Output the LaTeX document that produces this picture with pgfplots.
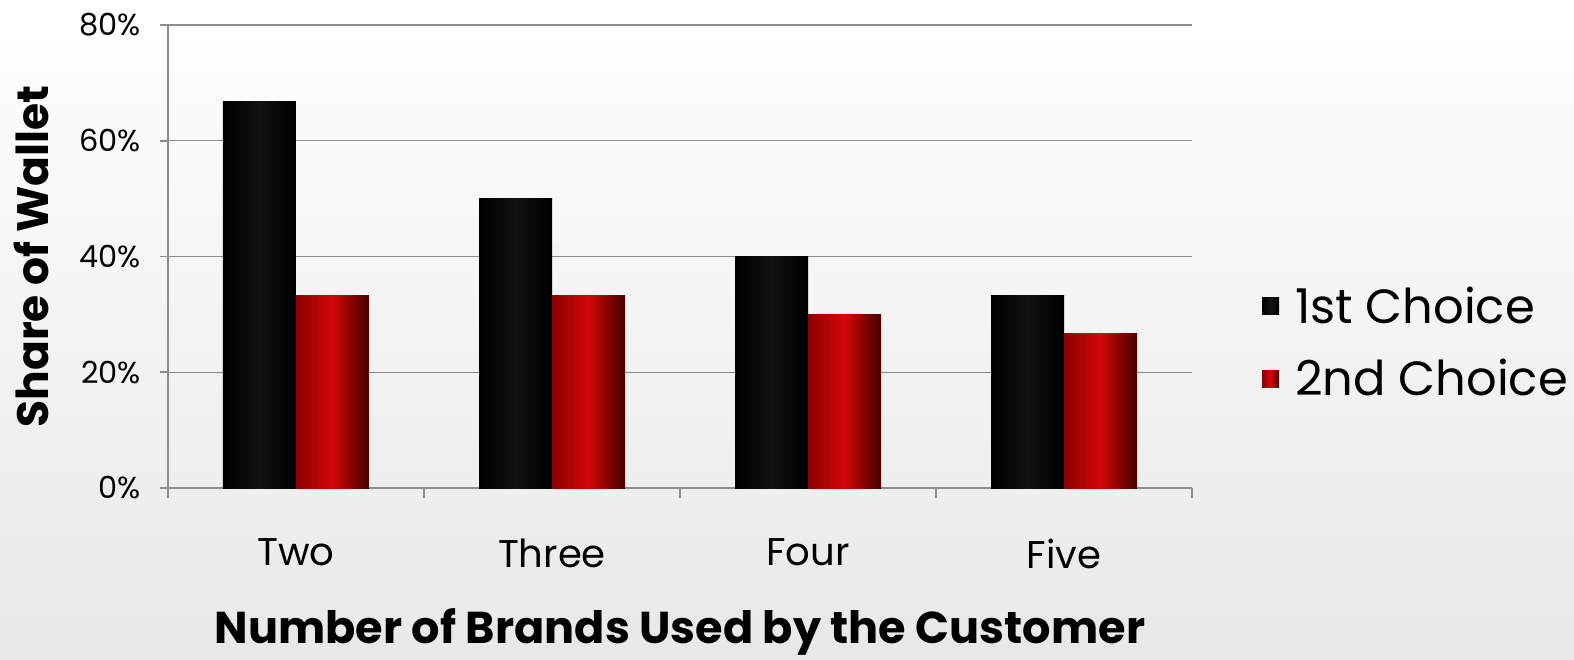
\documentclass[border=0pt]{standalone}
\usepackage{pgfplots}
\pgfplotsset{compat=1.18}
\usepackage{fontspec}
\setmainfont{Poppins}
\definecolor{gridgray}{RGB}{140,140,140}
\definecolor{redmid}{RGB}{210,8,8}
\definecolor{redleft}{RGB}{140,0,0}
\definecolor{redright}{RGB}{70,0,0}
\definecolor{bgbottom}{RGB}{232,232,232}
\begin{document}
\begin{tikzpicture}[x=1pt,y=1pt]
\useasboundingbox (-84,-85.5) rectangle (703,244);
\shade[top color=white, bottom color=bgbottom] (-84,-85.5) rectangle (703,244);
\begin{axis}[at={(0,0)}, anchor=south west, scale only axis,
  width=512pt, height=231.5pt,
  ybar, bar width=36.5pt,
  xmin=-0.5, xmax=3.5, ymin=0, ymax=80,
  xtick={0,1,2,3}, xticklabels={Two,Three,Four,Five},
  minor xtick={-0.5,0.5,1.5,2.5,3.5},
  major x tick style={draw=none},
  ytick={0,20,40,60,80},
  yticklabel={\pgfmathprintnumber{\tick}\%},
  /pgf/number format/assume math mode=true,
  ymajorgrids, grid style={gridgray, line width=0.7pt},
  axis x line*=bottom, axis y line*=left,
  axis line style={gridgray, line width=0.8pt},
  tick style={gridgray, line width=0.8pt},
  tick align=outside, major tick length=4pt, minor tick length=5pt,
  xticklabel style={font=\fontsize{19.3}{19.3}\selectfont, yshift=-18pt},
  yticklabel style={font=\fontsize{15.2}{15.2}\selectfont, xshift=-6pt},
  xlabel={Number of Brands Used by the Customer},
  ylabel={Share of Wallet},
  xlabel style={font=\bfseries\fontsize{22.3}{22.3}\selectfont, at={(axis description cs:0.5,-0.311)}, anchor=center},
  ylabel style={font=\bfseries\fontsize{22}{22}\selectfont, at={(axis description cs:-0.1338,0.5)}, anchor=center},
  legend style={at={(1.068,0.314)}, anchor=west, draw=none, fill=none, inner sep=0pt,
    font=\fontsize{24}{24}\selectfont, row sep=12.5pt,
    /tikz/every odd column/.append style={column sep=6pt}},
  legend cell align=left,
  blackbar/.style={draw=none, bar shift=-18.25pt, left color=black, right color=black, middle color=black!93},
  redbar/.style={draw=none, bar shift=18.25pt, left color=redleft, right color=redright, middle color=redmid},
]
\addplot[blackbar,
  legend image code/.code={\fill[black] (0pt,-4.25pt) rectangle (8.5pt,4.25pt);}]
  coordinates {(0,66.7)};
\addplot[redbar,
  legend image code/.code={\shade[left color=redleft, right color=redright, middle color=redmid] (0pt,-4.25pt) rectangle (8.5pt,4.25pt);}]
  coordinates {(0,33.3)};
\addplot[blackbar, forget plot] coordinates {(1,50)};
\addplot[blackbar, forget plot] coordinates {(2,40)};
\addplot[blackbar, forget plot] coordinates {(3,33.3)};
\addplot[redbar, forget plot] coordinates {(1,33.3)};
\addplot[redbar, forget plot] coordinates {(2,30)};
\addplot[redbar, forget plot] coordinates {(3,26.7)};
\legend{1st Choice, 2nd Choice}
\end{axis}
\end{tikzpicture}
\end{document}
